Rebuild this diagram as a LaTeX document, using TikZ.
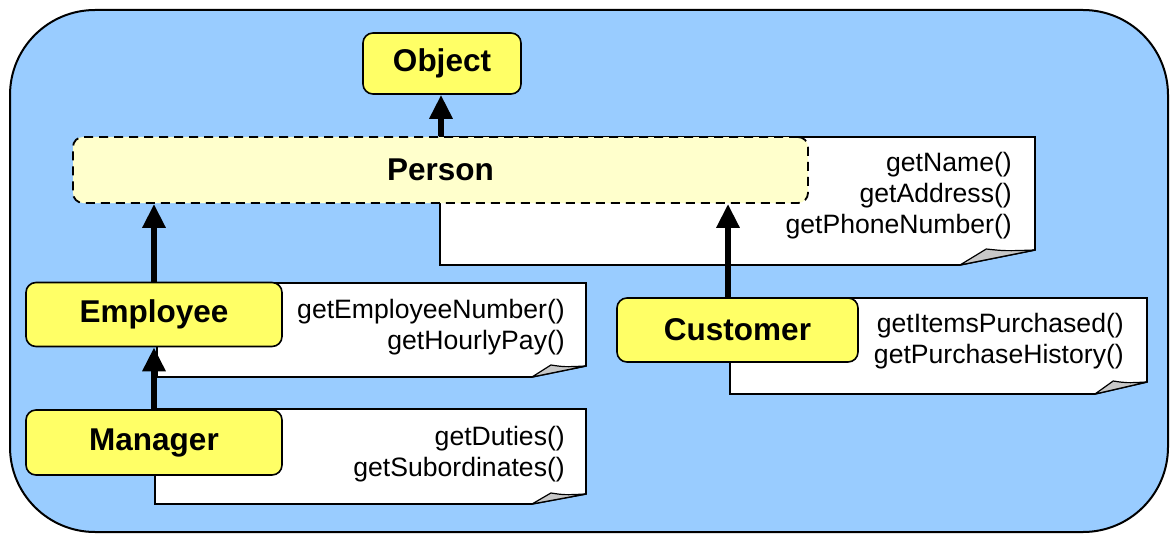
\documentclass[tikz,border=0pt]{standalone}
\usepackage{fontspec}
\setmainfont{Liberation Sans}
\usetikzlibrary{arrows.meta}
\definecolor{bgblue}{HTML}{99CCFF}
\definecolor{boxyellow}{HTML}{FFFF66}
\definecolor{paleyellow}{HTML}{FFFFCC}
\definecolor{foldgray}{HTML}{C8C8C8}
\tikzset{
  cls/.style={draw=black, line width=1.6pt, fill=boxyellow, rounded corners=10pt,
    inner sep=0pt, font=\fontsize{31.5}{35}\selectfont\bfseries},
  abscls/.style={draw=black, line width=1.8pt, fill=paleyellow, rounded corners=10pt,
    dash pattern=on 9pt off 6pt, inner sep=0pt, font=\fontsize{31.5}{35}\selectfont\bfseries},
  notebody/.style={draw=black, line width=1.6pt, fill=white, line join=miter},
  notefold/.style={draw=black, line width=1.2pt, fill=foldgray, line join=round},
  methods/.style={align=right, anchor=east, inner sep=0pt, font=\fontsize{26.6}{31}\selectfont},
  inh/.style={line width=6.5pt, -{Triangle[width=22pt,length=24pt]}},
}
\newcommand{\drawnote}[6]{% x1 y1 x2 y2 dx dy
  \draw[notebody] (#1,#2) -- (#3,#2) -- (#3,#4-#6) -- (#3-#5,#4) -- (#1,#4) -- cycle;
  \draw[notefold] (#3-#5,#4) -- (#3-#5+0.35*#5,#4-#6-1) .. controls (#3-0.4*#5,#4-#6+1) .. (#3,#4-#6) -- cycle;
}
\begin{document}
\begin{tikzpicture}[x=1pt,y=-1pt]
\useasboundingbox (0,0) rectangle (1175,535);
% background panel
\draw[line width=2pt, fill=bgblue, rounded corners=85pt] (10,10) rectangle (1168,532);

% notes
\drawnote{440}{137}{1035}{265}{75}{15}
\drawnote{157}{283}{586}{377}{54}{11}
\drawnote{155}{409}{586}{504}{54}{10}
\drawnote{730}{298}{1147}{394}{52}{12}

\node[methods] (pm) at (1012,196) {getName()\\getAddress()\\getPhoneNumber()};
\node[methods] (em) at (565,327) {getEmployeeNumber()\\getHourlyPay()};
\node[methods] (mm) at (565,454) {getDuties()\\getSubordinates()};
\node[methods] (cm) at (1124,341) {getItemsPurchased()\\getPurchaseHistory()};

% class boxes
\node[cls, minimum width=158pt, minimum height=61pt] (object) at (442,63.5) {Object};
\node[abscls, minimum width=735pt, minimum height=66pt] (person) at (440.5,170) {Person};
\node[cls, minimum width=256pt, minimum height=64pt] (employee) at (154,314.5) {Employee};
\node[cls, minimum width=256pt, minimum height=65pt] (manager) at (154,442.5) {Manager};
\node[cls, minimum width=241pt, minimum height=64pt] (customer) at (737.5,330) {Customer};

% inheritance arrows
\coordinate (cx) at (728,0);
\coordinate (ox) at (441,0);
\draw[inh] (person.north -| ox) -- (object.south -| ox);
\draw[inh] (employee.north) -- (person.south -| employee.north);
\draw[inh] (customer.north -| cx) -- (person.south -| cx);
\draw[inh] (manager.north) -- (employee.south);
\end{tikzpicture}
\end{document}
